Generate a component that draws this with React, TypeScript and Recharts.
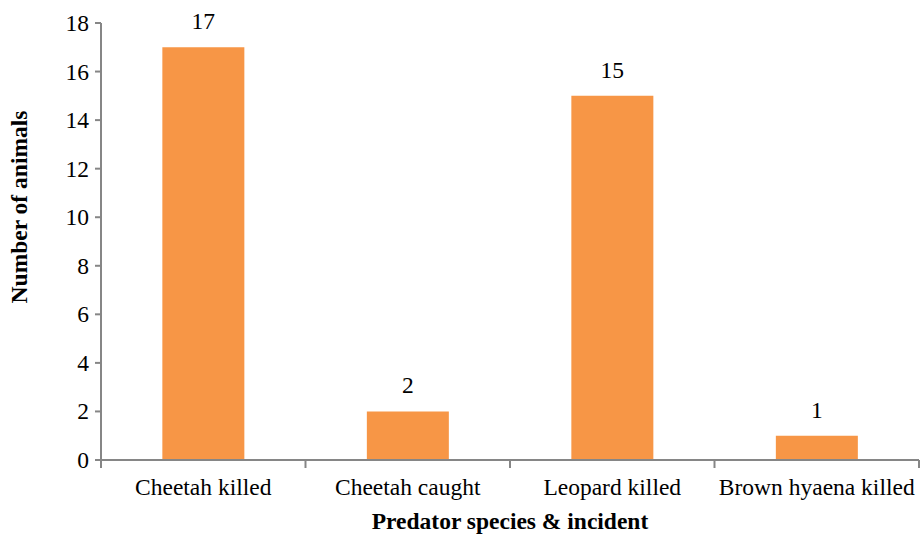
import { BarChart, Bar, XAxis, YAxis, LabelList } from "recharts";

const categories = ["Cheetah killed", "Cheetah caught", "Leopard killed", "Brown hyaena killed"];
const animals = [17, 2, 15, 1];
const yTicks = [0, 2, 4, 6, 8, 10, 12, 14, 16, 18];

const data = categories.map((name, i) => ({ name, animals: animals[i] }));

const FONT = "'Liberation Serif'";
const FS = 23.5;
const AXIS = "#868686";
const txt = { fontFamily: FONT, fontSize: FS, fill: "#000" };

const css = `
#root .recharts-wrapper svg text,
#root .recharts-wrapper svg tspan,
#root .recharts-wrapper .serif-text { font-family: 'Liberation Serif' !important; }
`;

function YTitle() {
  return (
    <text
      className="serif-text"
      x={27}
      y={207}
      transform="rotate(-90 27 207)"
      textAnchor="middle"
      fontFamily={FONT}
      style={{ ...txt, fontWeight: "bold" }}
    >
      Number of animals
    </text>
  );
}

function XTitle(props: any) {
  const { viewBox } = props;
  const cx = viewBox ? viewBox.x + viewBox.width / 2 : 510;
  return (
    <text className="serif-text" x={cx} y={529} textAnchor="middle" fontFamily={FONT} style={{ ...txt, fontWeight: "bold" }}>
      Predator species &amp; incident
    </text>
  );
}

// tick marks sit on category boundaries, labels in the middle
function CatTick(props: any) {
  const { x, y, payload, index, width } = props;
  const band = (width || 818) / categories.length;
  const axisY = y - 10;
  const left = x - band / 2;
  return (
    <g>
      <line x1={left} x2={left} y1={axisY} y2={axisY + 8} stroke={AXIS} strokeWidth={2} />
      {index === categories.length - 1 && (
        <line x1={x + band / 2} x2={x + band / 2} y1={axisY} y2={axisY + 8} stroke={AXIS} strokeWidth={2} />
      )}
      <text className="serif-text" x={x} y={y + 25} textAnchor="middle" fontFamily={FONT} style={txt}>
        {payload.value}
      </text>
    </g>
  );
}

function ValTick(props: any) {
  const { x, y, payload } = props;
  return (
    <text className="serif-text" x={x - 4} y={y + 8} textAnchor="end" fontFamily={FONT} style={txt}>
      {payload.value}
    </text>
  );
}

function BarLabel(props: any) {
  const { x, y, width, value } = props;
  return (
    <text className="serif-text" x={x + width / 2} y={y - 18} textAnchor="middle" fontFamily={FONT} style={txt}>
      {value}
    </text>
  );
}

export default function App() {
  return (
    <div style={{ position: "absolute", left: 0, top: 0, background: "#fff", fontFamily: FONT }}>
      <style>{css}</style>
      <BarChart
        width={921}
        height={538}
        data={data}
        margin={{ top: 23, right: 2, bottom: 0, left: 0 }}
        barCategoryGap="30%"
        style={{ fontFamily: FONT }}
      >
        <XAxis
          dataKey="name"
          height={78}
          stroke={AXIS}
          strokeWidth={2}
          tickSize={8}
          tickLine={false}
          interval={0}
          tick={<CatTick />}
          label={<XTitle />}
        />
        <YAxis
          width={101}
          domain={[0, 18]}
          ticks={yTicks}
          stroke={AXIS}
          strokeWidth={2}
          tickSize={6}
          tick={<ValTick />}
          label={<YTitle />}
        />
        <Bar dataKey="animals" fill="#F79646" isAnimationActive={false}>
          <LabelList dataKey="animals" content={<BarLabel />} />
        </Bar>
      </BarChart>
    </div>
  );
}
